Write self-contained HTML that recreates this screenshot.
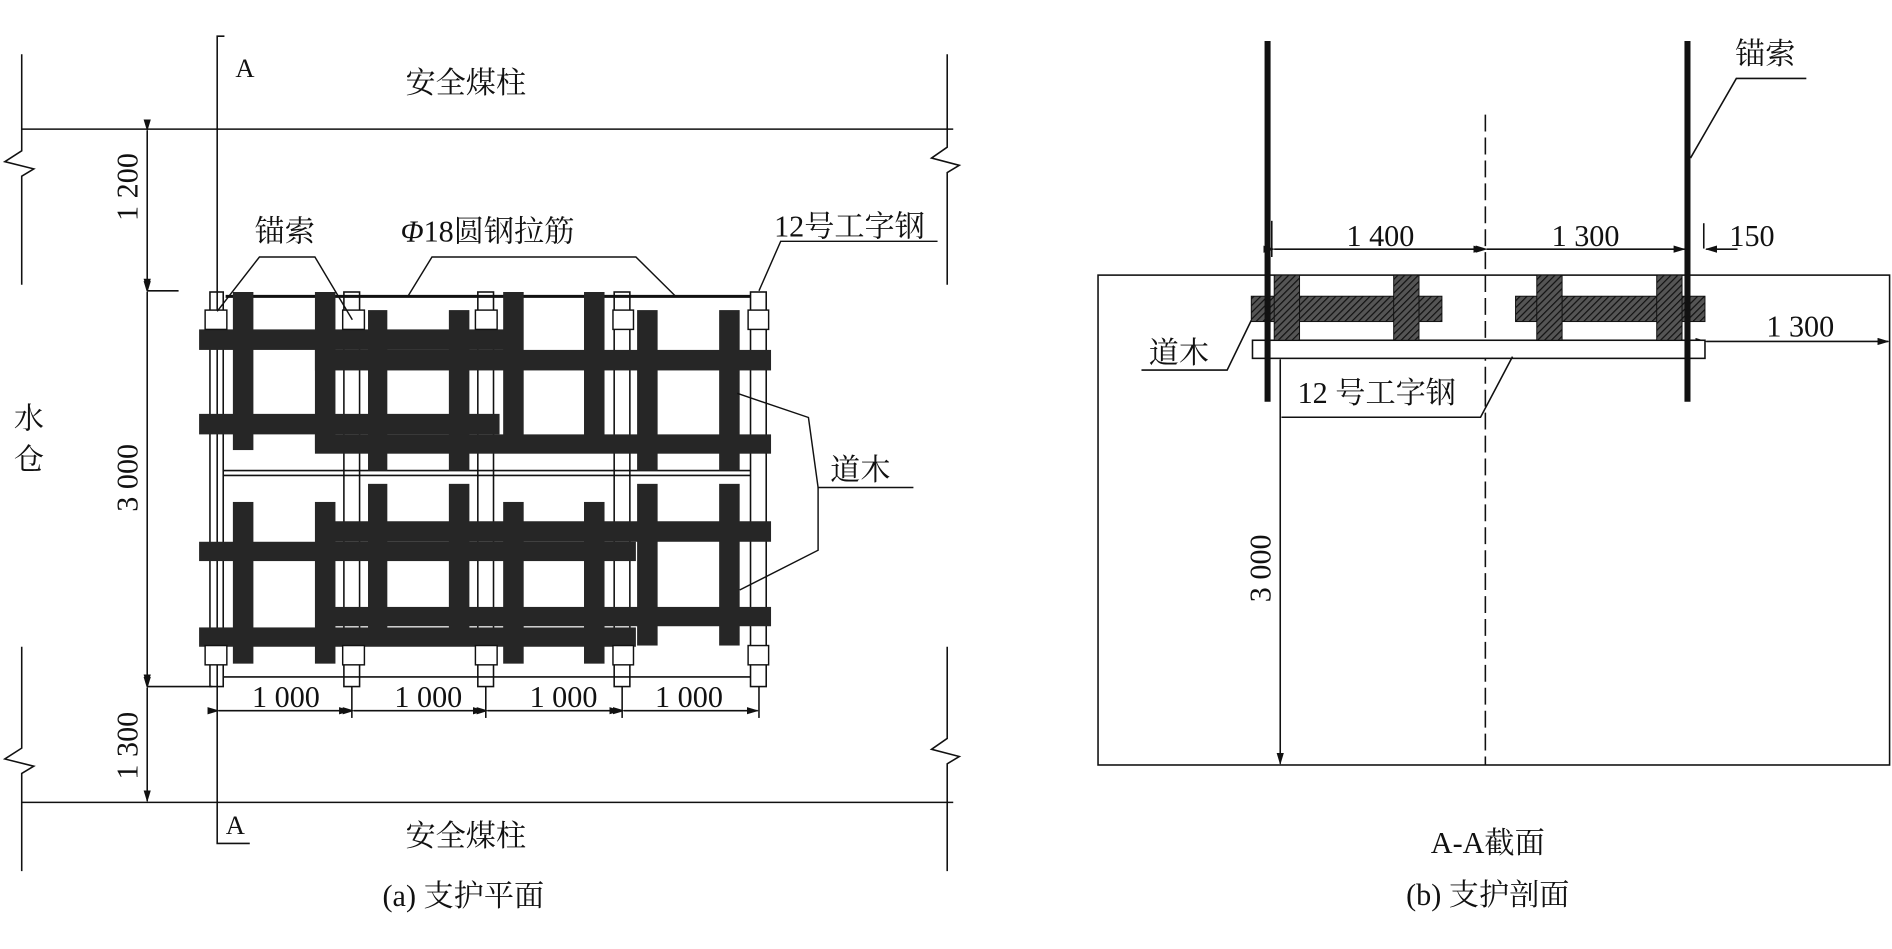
<!DOCTYPE html>
<html><head><meta charset="utf-8"><style>
html,body{margin:0;padding:0;background:#fff}
svg{display:block}
text{font-family:"Liberation Serif","Noto Serif CJK SC",serif;fill:#111}
</style></head><body>
<svg width="1892" height="949" viewBox="0 0 1568 786.5" preserveAspectRatio="none" xmlns="http://www.w3.org/2000/svg">
<defs>
<pattern id="h" width="4" height="4" patternUnits="userSpaceOnUse" patternTransform="rotate(45)">
<rect width="4" height="4" fill="#555"/><line x1="0" y1="0" x2="0" y2="4" stroke="#111" stroke-width="2"/>
</pattern>
<marker id="ar" markerWidth="10" markerHeight="6" refX="9" refY="3" orient="auto" markerUnits="userSpaceOnUse"><path d="M0,0 L10,3 L0,6 z" fill="#111"/></marker>
</defs>
<g stroke="#111" stroke-width="1.3" fill="none">
<line x1="18" y1="107" x2="790" y2="107"/>
<line x1="18" y1="665" x2="790" y2="665"/>
<polyline points="18,45 18,125 4,134 28,140 18,146 18,236"/>
<polyline points="18,536 18,620 4,629 28,635 18,641 18,722"/>
<polyline points="785,45 785,122 772,131 795,137 785,143 785,236"/>
<polyline points="785,536 785,612 772,621 795,627 785,633 785,722"/>
<polyline points="186,30 180,30 180,699 207,699"/>
<line x1="122" y1="108" x2="122" y2="240" marker-end="url(#ar)" marker-start="url(#ar)"/>
<line x1="122" y1="242" x2="122" y2="568" marker-end="url(#ar)" marker-start="url(#ar)"/>
<line x1="122" y1="570" x2="122" y2="664" marker-end="url(#ar)" marker-start="url(#ar)"/>
<line x1="122" y1="241" x2="148" y2="241"/>
<line x1="122" y1="569" x2="176" y2="569"/>
<line x1="181" y1="589" x2="290" y2="589" marker-end="url(#ar)" marker-start="url(#ar)"/>
<line x1="293" y1="589" x2="401" y2="589" marker-end="url(#ar)" marker-start="url(#ar)"/>
<line x1="404" y1="589" x2="514" y2="589" marker-end="url(#ar)" marker-start="url(#ar)"/>
<line x1="517" y1="589" x2="628" y2="589" marker-end="url(#ar)" marker-start="url(#ar)"/>
<line x1="291.6" y1="569" x2="291.6" y2="595"/><line x1="402.6" y1="569" x2="402.6" y2="595"/>
<line x1="515.6" y1="569" x2="515.6" y2="595"/><line x1="629" y1="569" x2="629" y2="595"/>
<line x1="185" y1="390" x2="622" y2="390"/><line x1="185" y1="394" x2="622" y2="394"/>
<line x1="185" y1="561" x2="622" y2="561"/>
<rect x="174" y="242" width="11" height="327"/>
<rect x="285" y="242" width="13" height="327"/><rect x="396" y="242" width="13" height="327"/>
<rect x="509" y="242" width="13" height="327"/><rect x="622" y="242" width="13" height="327"/>
</g>
<line x1="187" y1="245.6" x2="622" y2="245.6" stroke="#111" stroke-width="2.5"/>
<g fill="#262626">
<rect x="165" y="273" width="254" height="17"/><rect x="261" y="290" width="378" height="17"/>
<rect x="165" y="343" width="249" height="17"/><rect x="261" y="360" width="378" height="16"/>
<rect x="276" y="432" width="363" height="17"/><rect x="165" y="449" width="362" height="16"/>
<rect x="276" y="503" width="363" height="16"/><rect x="165" y="520" width="362" height="16"/>
<rect x="193" y="242" width="17" height="131"/><rect x="193" y="416" width="17" height="134"/>
<rect x="261" y="242" width="17" height="131"/><rect x="261" y="416" width="17" height="134"/>
<rect x="305" y="257" width="16" height="133"/><rect x="305" y="401" width="16" height="134"/>
<rect x="372" y="257" width="17" height="133"/><rect x="372" y="401" width="17" height="134"/>
<rect x="417" y="242" width="17" height="131"/><rect x="417" y="416" width="17" height="134"/>
<rect x="484" y="242" width="17" height="131"/><rect x="484" y="416" width="17" height="134"/>
<rect x="528" y="257" width="17" height="133"/><rect x="528" y="401" width="17" height="134"/>
<rect x="596" y="257" width="17" height="133"/><rect x="596" y="401" width="17" height="134"/>
</g>
<g stroke="#111" stroke-width="1.2" fill="#fff">
<rect x="170" y="257" width="18" height="16"/><rect x="284" y="257" width="18" height="16"/>
<rect x="394" y="257" width="18" height="16"/><rect x="508" y="257" width="17" height="16"/><rect x="620" y="257" width="17" height="16"/>
<rect x="170" y="535" width="18" height="16"/><rect x="284" y="535" width="18" height="16"/>
<rect x="394" y="535" width="18" height="16"/><rect x="508" y="535" width="17" height="16"/><rect x="620" y="535" width="17" height="16"/>
</g>
<g stroke="#111" stroke-width="1.2" fill="none">
<polyline points="180,258 215,213 261,213 292,265"/>
<polyline points="338,245.6 358,213 527,213 560,245.6"/>
<polyline points="629,241 647,200 777,200"/>
<polyline points="611,326 670,346 678,404 757,404"/>
<polyline points="613,489 678,456 678,404"/>
</g>
<g font-size="25">
<text x="203" y="64" text-anchor="middle" font-size="22">A</text>
<text x="195" y="691" text-anchor="middle" font-size="22">A</text>
<text x="386" y="77" text-anchor="middle">安全煤柱</text>
<text x="386" y="701" text-anchor="middle">安全煤柱</text>
<text x="384" y="751" text-anchor="middle">(a) 支护平面</text>
<text x="24" y="355" text-anchor="middle">水</text>
<text x="24" y="389" text-anchor="middle">仓</text>
<text x="236" y="200" text-anchor="middle">锚索</text>
<text x="404" y="200" text-anchor="middle"><tspan font-style="italic">Φ</tspan>18圆钢拉筋</text>
<text x="704" y="196" text-anchor="middle">12号工字钢</text>
<text x="713" y="398" text-anchor="middle">道木</text>
<text x="237" y="586" text-anchor="middle">1 000</text>
<text x="355" y="586" text-anchor="middle">1 000</text>
<text x="467" y="586" text-anchor="middle">1 000</text>
<text x="571" y="586" text-anchor="middle">1 000</text>
<text transform="translate(114,155) rotate(-90)" text-anchor="middle">1 200</text>
<text transform="translate(114,396) rotate(-90)" text-anchor="middle">3 000</text>
<text transform="translate(114,618) rotate(-90)" text-anchor="middle">1 300</text>
</g>
<g stroke="#111" stroke-width="1.3" fill="none">
<rect x="910" y="228" width="656" height="406"/>
<line x1="1231" y1="95" x2="1231" y2="634" stroke-dasharray="14,5"/>
<line x1="1054" y1="183" x2="1054" y2="213"/><line x1="1412" y1="185" x2="1412" y2="206"/>
<line x1="1056" y1="206.5" x2="1230" y2="206.5" marker-end="url(#ar)" marker-start="url(#ar)"/>
<line x1="1232" y1="206.5" x2="1396" y2="206.5" marker-end="url(#ar)" marker-start="url(#ar)"/>
<line x1="1440" y1="206.5" x2="1414" y2="206.5" marker-end="url(#ar)"/>
<line x1="1414" y1="283" x2="1565" y2="283" marker-end="url(#ar)" marker-start="url(#ar)"/>
<line x1="1061" y1="298" x2="1061" y2="633" marker-end="url(#ar)" marker-start="url(#ar)"/>
<rect x="1038" y="282" width="375" height="15" fill="#fff"/>
<polyline points="946,306.7 1017,306.7 1037,265.5"/>
<polyline points="1062,345.8 1227,345.8 1253.5,295.6"/>
<polyline points="1497,65 1439,65 1401,131"/>
</g>
<g fill="url(#h)" stroke="#111" stroke-width="0.8">
<rect x="1037" y="245.5" width="158" height="21"/><rect x="1256" y="245.5" width="157" height="21"/>
<rect x="1056" y="228" width="21" height="54"/><rect x="1155" y="228" width="21" height="54"/>
<rect x="1273.6" y="228" width="21" height="54"/><rect x="1373" y="228" width="21" height="54"/>
</g>
<line x1="1050.5" y1="34" x2="1050.5" y2="333" stroke="#111" stroke-width="5"/>
<line x1="1398.5" y1="34" x2="1398.5" y2="333" stroke="#111" stroke-width="5"/>
<g font-size="25">
<text x="1144" y="204" text-anchor="middle">1 400</text>
<text x="1314" y="204" text-anchor="middle">1 300</text>
<text x="1452" y="204" text-anchor="middle">150</text>
<text x="1492" y="279" text-anchor="middle">1 300</text>
<text x="977" y="301" text-anchor="middle">道木</text>
<text x="1141" y="334" text-anchor="middle">12 号工字钢</text>
<text x="1463" y="53" text-anchor="middle">锚索</text>
<text transform="translate(1053,471) rotate(-90)" text-anchor="middle">3 000</text>
<text x="1233" y="707" text-anchor="middle">A-A截面</text>
<text x="1233" y="750" text-anchor="middle">(b) 支护剖面</text>
</g>
</svg>
</body></html>
